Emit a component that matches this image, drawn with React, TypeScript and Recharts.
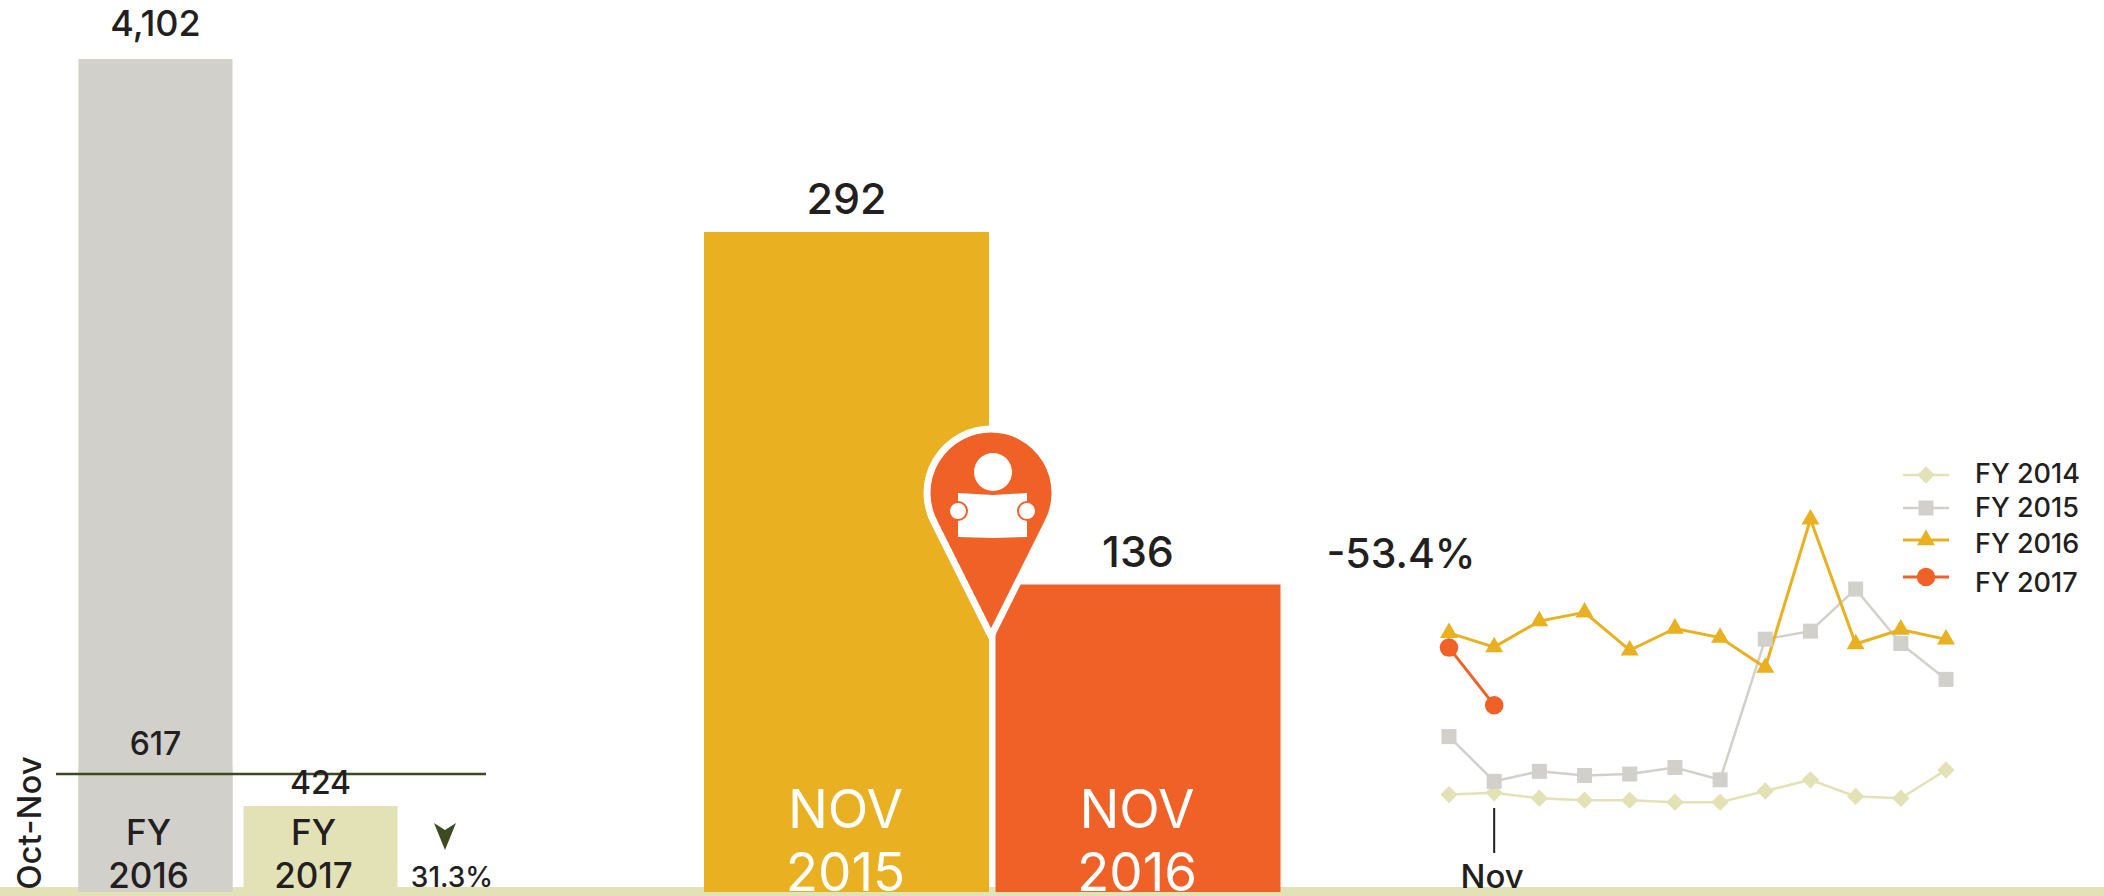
import React from 'react';
import { BarChart, Bar, Cell, LabelList, LineChart, Line, ReferenceLine, Symbols, XAxis, YAxis } from 'recharts';

const FONT = 'Inter, sans-serif';
const INK = '#231f20';
const PALE = '#e3e2b6';
const GREY = '#d1d0cb';
const GOLD = '#e9b121';
const ORANGE = '#ef6127';
const DARK_GREEN = '#3c4a22';

// left panel, full year and Oct-Nov
const fyCategories = ['FY 2016', 'FY 2017'];
const fyFullYear = [4102, null];
const fyOctNov = [617, 424];
const fyColors = [GREY, PALE];
const octNovMarker = 581;

// middle panel
const novCategories = ['NOV 2015', 'NOV 2016'];
const novValues = [292, 136];
const novColors = [GOLD, ORANGE];

// right panel
const months = ['Oct', 'Nov', 'Dec', 'Jan', 'Feb', 'Mar', 'Apr', 'May', 'Jun', 'Jul', 'Aug', 'Sep'];
const fy2014 = [42, 43, 40, 39, 39, 38, 38, 44, 51, 41, 40, 58];
const fy2015 = [90, 50, 57, 54, 55, 60, 51, 324, 360, 626, 306, 191];
const fy2016 = [352, 292, 411, 461, 280, 373, 331, 223, 1566, 304, 368, 323];
const fy2017 = [290, 136, null, null, null, null, null, null, null, null, null, null];

const fyData = fyCategories.map((name, i) => ({ name, full: fyFullYear[i], octNov: fyOctNov[i] }));
const novData = novCategories.map((name, i) => ({ name, value: novValues[i] }));
const monthData = months.map((month, i) => ({
  month,
  fy2014: fy2014[i],
  fy2015: fy2015[i],
  fy2016: fy2016[i],
  fy2017: fy2017[i],
}));

const lineSeries = [
  { key: 'fy2014', name: 'FY 2014', color: PALE, symbol: 'square', size: 150, rotate: 45, width: 2.5, legendY: 475, textY: 474 },
  { key: 'fy2015', name: 'FY 2015', color: GREY, symbol: 'square', size: 225, rotate: 0, width: 2.5, legendY: 508, textY: 508 },
  { key: 'fy2016', name: 'FY 2016', color: GOLD, symbol: 'triangle', size: 140, rotate: 0, width: 3, legendY: 540, textY: 544 },
  { key: 'fy2017', name: 'FY 2017', color: ORANGE, symbol: 'circle', size: 270, rotate: 0, width: 3, legendY: 577, textY: 583 },
];

const Mark = ({ s, x, y }: any) => (
  <g transform={`translate(${x} ${y}) rotate(${s.rotate})`}>
    <Symbols type={s.symbol} size={s.size} cx={0} cy={0} fill={s.color} />
  </g>
);

const marker = (s: any) => (props: any) => {
  if (props.value == null) return <g key={props.index} />;
  return <Mark key={props.index} s={s} x={props.cx} y={props.cy} />;
};

// two line caption sitting at the foot of a bar
const stackedCaption = (color: string, size: number, weight: number, dx: number, topUp: number, bottomUp: number) => (props: any) => {
  const { x, y, width, height, value } = props;
  const [first, second] = String(value).split(' ');
  const cx = x + width / 2 + dx;
  const foot = y + height;
  return (
    <text textAnchor="middle" fontFamily={FONT} fontSize={size} fontWeight={weight} fill={color}>
      <tspan x={cx} y={foot - topUp}>{first}</tspan>
      <tspan x={cx} y={foot - bottomUp}>{second}</tspan>
    </text>
  );
};

const NovTick = (props: any) => {
  const { x, y, payload } = props;
  return (
    <g>
      <line x1={x} x2={x} y1={y - 43} y2={y + 2} stroke={INK} strokeWidth={2} />
      <text x={x - 2} y={y + 37} textAnchor="middle" fontFamily={FONT} fontSize={33} fontWeight={500} fill={INK}>{payload.value}</text>
    </g>
  );
};

const panel = (left: number): React.CSSProperties => ({ position: 'absolute', left, top: 0 });

export default function App() {
  return (
    <div style={{ position: 'absolute', left: 0, top: 0, width: 2104, height: 896, background: '#fff', overflow: 'hidden' }}>
      <div style={{ position: 'absolute', left: 0, top: 887, width: 2104, height: 9, background: PALE }} />

      <div style={panel(0)}>
        <BarChart width={600} height={896} data={fyData} barSize={154} barGap={-154} margin={{ top: 59, right: 114, bottom: 4, left: 56 }}>
          <XAxis dataKey="name" hide padding={{ left: 16.5, right: 83.5 }} />
          <YAxis hide domain={[0, 4102]} />
          <Bar dataKey="full" fill={GREY} isAnimationActive={false}>
            <LabelList dataKey="full" position="top" offset={23} fontFamily={FONT} fontSize={36} fontWeight={500} fill={INK} formatter={(v: any) => (v == null ? '' : v.toLocaleString('en-US'))} />
          </Bar>
          <Bar dataKey="octNov" isAnimationActive={false}>
            {fyData.map((d, i) => <Cell key={d.name} fill={fyColors[i]} />)}
            <LabelList dataKey="octNov" position="top" offset={12} fontFamily={FONT} fontSize={32} fontWeight={500} fill={INK} />
            <LabelList dataKey="name" content={stackedCaption(INK, 35, 500, -7, 47, 4)} />
          </Bar>
          <ReferenceLine y={octNovMarker} stroke={DARK_GREEN} strokeWidth={2.5} />
        </BarChart>
      </div>

      <div style={panel(680)}>
        <BarChart width={640} height={896} data={novData} barSize={285} margin={{ top: 232, right: 36, bottom: 4, left: 21 }}>
          <XAxis dataKey="name" hide />
          <YAxis hide domain={[0, 292]} />
          <Bar dataKey="value" isAnimationActive={false}>
            {novData.map((d, i) => <Cell key={d.name} fill={novColors[i]} />)}
            <LabelList dataKey="value" position="top" offset={18} fontFamily={FONT} fontSize={43} fontWeight={500} fill={INK} />
            <LabelList dataKey="name" content={stackedCaption('#fff', 53, 400, -1, 64, 1)} />
          </Bar>
        </BarChart>
      </div>

      <div style={{ position: 'absolute', left: 1400, top: 400 }}>
        <LineChart width={600} height={496} data={monthData} margin={{ top: 48, right: 54, bottom: 0, left: 49 }}>
          <XAxis dataKey="month" ticks={['Nov']} interval={0} axisLine={false} tickLine={false} tickSize={0} tickMargin={0} height={45} tick={<NovTick />} />
          <YAxis hide scale="log" domain={[20, 4000]} allowDataOverflow />
          {lineSeries.map(s => (
            <Line
              key={s.key}
              dataKey={s.key}
              stroke={s.color}
              strokeWidth={s.width}
              dot={marker(s)}
              activeDot={false}
              isAnimationActive={false}
            />
          ))}
        </LineChart>
      </div>

      <svg width={2104} height={896} style={{ position: 'absolute', left: 0, top: 0, pointerEvents: 'none' }} fontFamily={FONT} fill={INK} fontWeight={500}>
        <text transform="translate(41 823) rotate(-90)" textAnchor="middle" fontSize={33}>Oct-Nov</text>
        <polygon points="434,823 445,830 456,823 445,850" fill={DARK_GREEN} />
        <text x={452} y={887} textAnchor="middle" fontSize={28}>31.3%</text>
        <text x={1401} y={568} textAnchor="middle" fontSize={41}>-53.4%</text>

        <path d="M991,636 L935,524 A64,64 0 1 1 1047,524 Z" fill={ORANGE} stroke="#fff" strokeWidth={7} strokeLinejoin="round" />
        <circle cx={993} cy={472} r={19} fill="#fff" />
        <path d="M958,493 L993,495 L1027,493 L1027,537 L993,538 L958,537 Z" fill="#fff" />
        <circle cx={958} cy={511} r={9} fill="#fff" stroke={ORANGE} strokeWidth={2} />
        <circle cx={1027} cy={511} r={9} fill="#fff" stroke={ORANGE} strokeWidth={2} />

        {lineSeries.map(s => (
          <g key={s.key}>
            <line x1={1903} x2={1949} y1={s.legendY} y2={s.legendY} stroke={s.color} strokeWidth={s.width} />
            <Mark s={s} x={1926} y={s.legendY} />
            <text x={1975} y={s.textY + 9} fontSize={27}>{s.name}</text>
          </g>
        ))}
      </svg>
    </div>
  );
}
